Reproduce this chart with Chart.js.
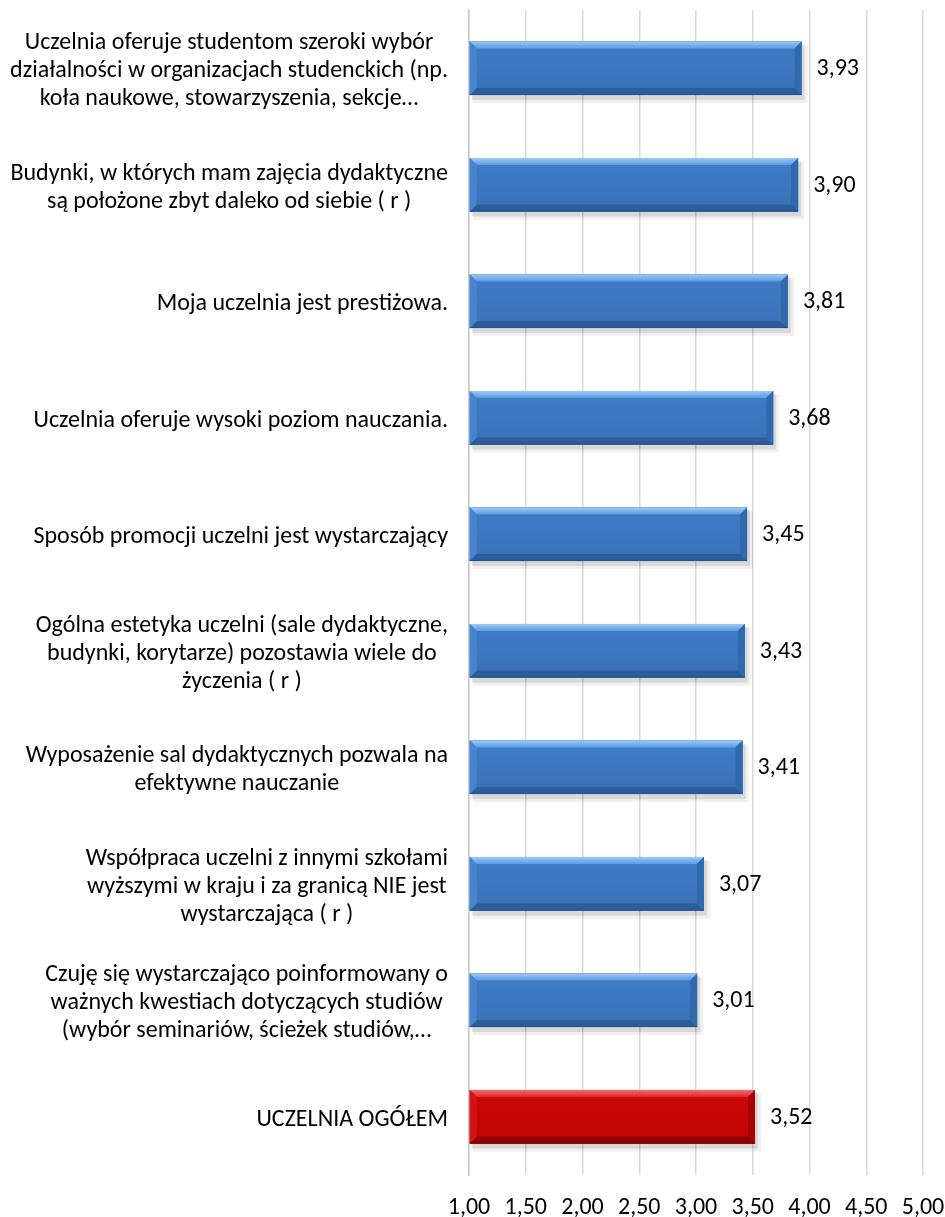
<!DOCTYPE html>
<html>
<head>
<meta charset="utf-8">
<script src="https://cdn.jsdelivr.net/npm/chart.js@4.4.1/dist/chart.umd.min.js"></script>
<style>
  html, body { margin: 0; padding: 0; background: #fff; overflow: hidden; }
  canvas { display: block; }
</style>
</head>
<body>
<canvas id="ratingsChart" width="945" height="1217"></canvas>
<script>
var categories = [
  ['Uczelnia oferuje studentom szeroki wybór', 'działalności w organizacjach studenckich (np.', 'koła naukowe, stowarzyszenia, sekcje…'],
  ['Budynki, w których mam zajęcia dydaktyczne', 'są położone zbyt daleko od siebie ( r )'],
  ['Moja uczelnia jest prestiżowa.'],
  ['Uczelnia oferuje wysoki poziom nauczania.'],
  ['Sposób promocji uczelni jest wystarczający'],
  ['Ogólna estetyka uczelni (sale dydaktyczne,', 'budynki, korytarze) pozostawia wiele do', 'życzenia ( r )'],
  ['Wyposażenie sal dydaktycznych pozwala na', 'efektywne nauczanie'],
  ['Współpraca uczelni z innymi szkołami', 'wyższymi w kraju i za granicą NIE jest', 'wystarczająca ( r )'],
  ['Czuję się wystarczająco poinformowany o', 'ważnych kwestiach dotyczących studiów', '(wybór seminariów, ścieżek studiów,…'],
  ['UCZELNIA OGÓŁEM']
];
var scores = [3.93, 3.90, 3.81, 3.68, 3.45, 3.43, 3.41, 3.07, 3.01, 3.52];
var highlightIndex = 9;
var axisMin = 1, axisMax = 5, axisStep = 0.5;

var FONT = '"Carlito", "Lato", "Noto Sans", sans-serif';
var FONT_SIZE = 24;
var LINE_H = 28;

var blue = { face: '#3f7dc9', faceDark: '#3a71b6', top: '#9ccaf4', topIn: '#5d9ae0', bottom: '#2c5c9a', left: '#4684d0', right: '#3169ad', edge: '#24508a' };
var red = { face: '#cc0808', faceDark: '#c00404', top: '#f46a6a', topIn: '#de2a2a', bottom: '#900000', left: '#d01414', right: '#a80202', edge: '#780000' };

function comma(v, d) {
  return v.toFixed(d).replace('.', ',');
}

function poly(ctx, pts, fill) {
  ctx.beginPath();
  ctx.moveTo(pts[0][0], pts[0][1]);
  for (var i = 1; i < pts.length; i++) ctx.lineTo(pts[i][0], pts[i][1]);
  ctx.closePath();
  ctx.fillStyle = fill;
  ctx.fill();
}

// bevelled bars, drop shadow and value labels
var bevelPlugin = {
  id: 'bevel',
  beforeDatasetsDraw: function(chart) {
    var ctx = chart.ctx;
    var meta = chart.getDatasetMeta(0);
    ctx.save();
    meta.data.forEach(function(bar) {
      var h = bar.height;
      ctx.fillStyle = 'rgba(0,0,0,0.10)';
      ctx.fillRect(bar.base + 2, bar.y - h / 2 + 3, bar.x - bar.base + 1, h + 2);
      ctx.fillStyle = 'rgba(0,0,0,0.06)';
      ctx.fillRect(bar.base + 3, bar.y - h / 2 + 4, bar.x - bar.base + 3, h + 4);
    });
    ctx.restore();
  },
  afterDatasetsDraw: function(chart) {
    var ctx = chart.ctx;
    var meta = chart.getDatasetMeta(0);
    ctx.save();
    meta.data.forEach(function(bar, i) {
      var c = i === highlightIndex ? red : blue;
      var L = bar.base, R = bar.x, T = bar.y - bar.height / 2, B = bar.y + bar.height / 2;
      var b = 7;
      var g = ctx.createLinearGradient(0, T, 0, B);
      g.addColorStop(0, c.face);
      g.addColorStop(1, c.faceDark);
      ctx.fillStyle = g;
      ctx.fillRect(L, T, R - L, B - T);
      var gt = ctx.createLinearGradient(0, T, 0, T + b);
      gt.addColorStop(0, c.top);
      gt.addColorStop(1, c.topIn);
      poly(ctx, [[L, T], [R, T], [R - b, T + b], [L + b, T + b]], gt);
      poly(ctx, [[L, B], [R, B], [R - b, B - b], [L + b, B - b]], c.bottom);
      poly(ctx, [[L, T], [L + b, T + b], [L + b, B - b], [L, B]], c.left);
      poly(ctx, [[R, T], [R - b, T + b], [R - b, B - b], [R, B]], c.right);
      ctx.fillStyle = c.edge;
      ctx.fillRect(L, B - 1, R - L, 1);

      ctx.fillStyle = '#000';
      ctx.font = FONT_SIZE + 'px ' + FONT;
      ctx.textAlign = 'left';
      ctx.textBaseline = 'middle';
      ctx.fillText(comma(scores[i], 2), R + 15, bar.y + 1);
    });
    ctx.restore();
  },
  afterDraw: function(chart) {
    // category labels: lines centred on each other, block right-aligned
    var ctx = chart.ctx;
    var yScale = chart.scales.y;
    var rightEdge = yScale.right - 21;
    ctx.save();
    ctx.font = FONT_SIZE + 'px ' + FONT;
    ctx.fillStyle = '#000';
    ctx.textBaseline = 'middle';
    ctx.textAlign = 'center';
    categories.forEach(function(lines, i) {
      var widest = 0;
      lines.forEach(function(t) { widest = Math.max(widest, ctx.measureText(t).width); });
      var cx = rightEdge - widest / 2;
      var cy = yScale.getPixelForTick(i);
      var y0 = cy - (lines.length - 1) * LINE_H / 2 + 3;
      lines.forEach(function(t, k) {
        ctx.fillText(t, cx, y0 + k * LINE_H);
      });
    });
    ctx.restore();
  }
};

new Chart(document.getElementById('ratingsChart'), {
  type: 'bar',
  data: {
    labels: categories,
    datasets: [{
      data: scores,
      base: axisMin,
      backgroundColor: scores.map(function(v, i) { return i === highlightIndex ? red.face : blue.face; }),
      borderWidth: 0,
      barPercentage: 0.46,
      categoryPercentage: 1
    }]
  },
  options: {
    indexAxis: 'y',
    responsive: false,
    animation: false,
    layout: { padding: { top: 10, right: 22, left: 0, bottom: 0 } },
    plugins: {
      legend: { display: false },
      tooltip: { enabled: false }
    },
    scales: {
      x: {
        min: axisMin,
        max: axisMax,
        border: { display: false },
        grid: { color: '#d9d9d9', lineWidth: 1.5, drawTicks: false },
        ticks: {
          stepSize: axisStep,
          padding: 19,
          color: '#000',
          font: { family: FONT, size: FONT_SIZE },
          callback: function(v) { return comma(v, 2); }
        },
        afterFit: function(scale) {
          scale.height = 42;
          scale.paddingLeft = 0;
          scale.paddingRight = 0;
        }
      },
      y: {
        grid: { display: false },
        border: { display: true, color: '#c8c8c8', width: 1.5 },
        ticks: { display: false },
        afterFit: function(scale) { scale.width = 469; }
      }
    }
  },
  plugins: [bevelPlugin]
});
</script>
</body>
</html>
